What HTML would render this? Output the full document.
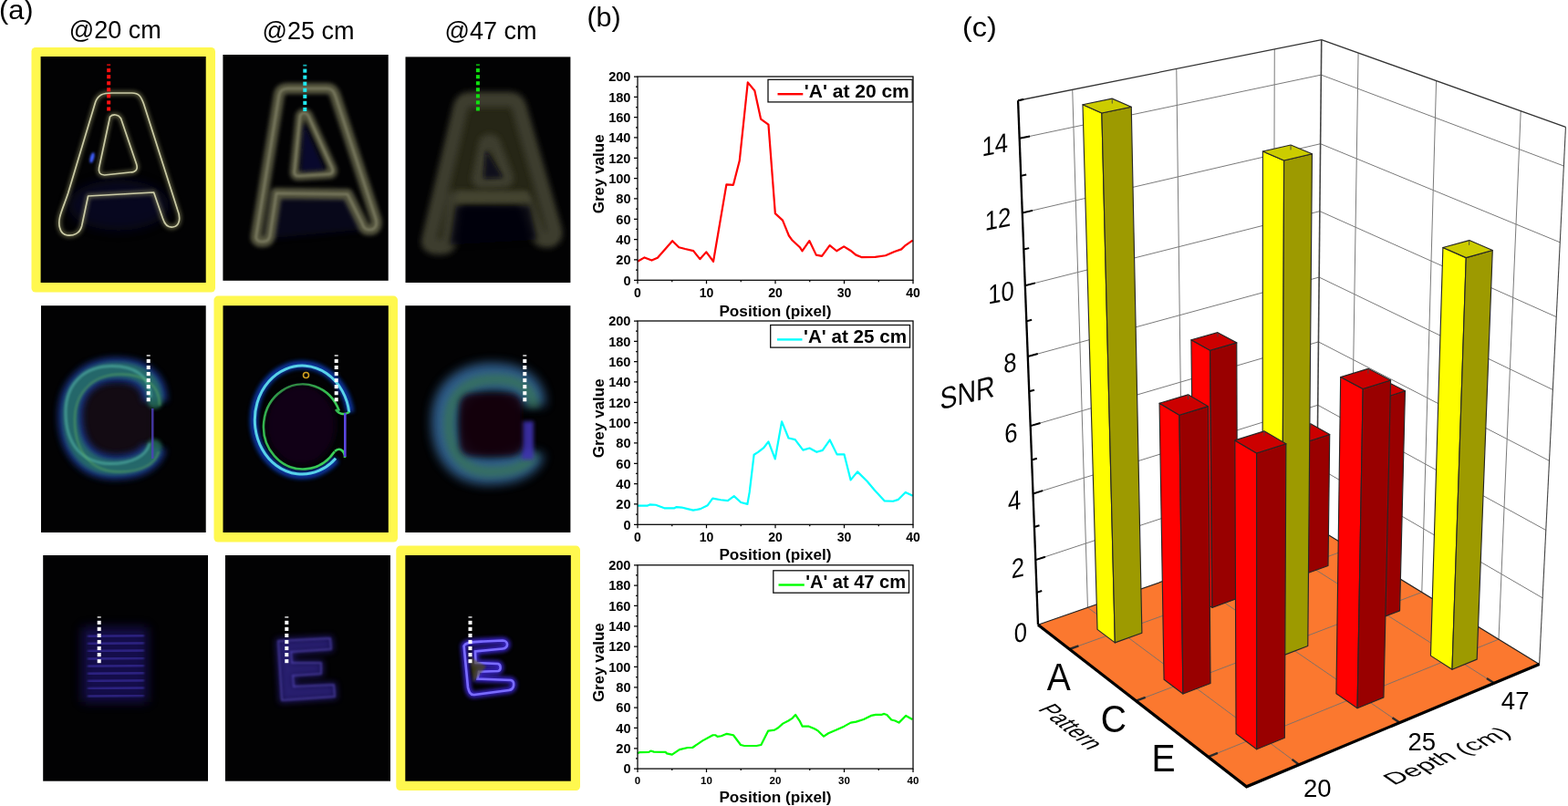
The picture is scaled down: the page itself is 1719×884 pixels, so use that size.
<!DOCTYPE html>
<html lang="en"><head><meta charset="utf-8"><title>Figure</title>
<style>
html,body{margin:0;padding:0;background:#fff;}
body{width:1719px;height:884px;overflow:hidden;}
svg{display:block;}
text{font-family:"Liberation Sans",Arial,Helvetica,sans-serif;fill:#000;}
</style></head><body>
<svg width="1719" height="884" viewBox="0 0 1719 884">
<defs>
<clipPath id="c00"><rect x="44.6" y="62" width="181.1" height="248"/></clipPath>
<clipPath id="c01"><rect x="244.4" y="60" width="181.3" height="247.8"/></clipPath>
<clipPath id="c02"><rect x="444.5" y="62.4" width="180.9" height="247.6"/></clipPath>
<clipPath id="c10"><rect x="45" y="335.2" width="180.7" height="248.8"/></clipPath>
<clipPath id="c11"><rect x="244.5" y="335.2" width="181.3" height="248.8"/></clipPath>
<clipPath id="c12"><rect x="444.3" y="335.2" width="181.1" height="248.8"/></clipPath>
<clipPath id="c20"><rect x="47.2" y="609" width="180.8" height="247.7"/></clipPath>
<clipPath id="c21"><rect x="246.9" y="609" width="181.1" height="247.7"/></clipPath>
<clipPath id="c22"><rect x="444.3" y="609" width="181.5" height="247.7"/></clipPath>
<filter id="g05" x="-50%" y="-50%" width="200%" height="200%"><feGaussianBlur stdDeviation="0.6"/></filter>
<filter id="g1" x="-50%" y="-50%" width="200%" height="200%"><feGaussianBlur stdDeviation="1.1"/></filter>
<filter id="g2" x="-50%" y="-50%" width="200%" height="200%"><feGaussianBlur stdDeviation="2"/></filter>
<filter id="g3" x="-50%" y="-50%" width="200%" height="200%"><feGaussianBlur stdDeviation="3.5"/></filter>
<filter id="g4" x="-50%" y="-50%" width="200%" height="200%"><feGaussianBlur stdDeviation="6"/></filter>
</defs>
<rect width="1719" height="884" fill="#fff"/>
<g font-size="29">
<text transform="translate(-1.1,20.7) scale(1.065,1)">(a)</text>
<text transform="translate(643.4,28.8) scale(1.056,1)">(b)</text>
<text transform="translate(1055,40) scale(1.1,1)" font-size="29.5">(c)</text>
</g>
<g font-size="27" text-anchor="middle">
<text x="126.3" y="42">@20 cm</text>
<text x="338" y="42.6">@25 cm</text>
<text x="538" y="42.6">@47 cm</text>
</g>
<rect x="34.5" y="52" width="201.5" height="268.5" rx="4.5" fill="#fff84f"/>
<rect x="234.5" y="324.6" width="201.5" height="269.9" rx="4.5" fill="#fff84f"/>
<rect x="434.3" y="598.6" width="201.7" height="268.4" rx="4.5" fill="#fff84f"/>
<rect x="44.6" y="62" width="181.1" height="248" fill="#020203"/>
<rect x="244.4" y="60" width="181.3" height="247.8" fill="#020203"/>
<rect x="444.5" y="62.4" width="180.9" height="247.6" fill="#020203"/>
<rect x="45" y="335.2" width="180.7" height="248.8" fill="#020203"/>
<rect x="244.5" y="335.2" width="181.3" height="248.8" fill="#020203"/>
<rect x="444.3" y="335.2" width="181.1" height="248.8" fill="#020203"/>
<rect x="47.2" y="609" width="180.8" height="247.7" fill="#020203"/>
<rect x="246.9" y="609" width="181.1" height="247.7" fill="#020203"/>
<rect x="444.3" y="609" width="181.5" height="247.7" fill="#020203"/>
<g clip-path="url(#c00)">
<ellipse cx="130" cy="225" rx="55" ry="28" fill="#0a0a30" opacity="0.6" filter="url(#g4)"/>
<g transform="translate(44.6,62)" fill="none" stroke="#8c8c60" stroke-width="5" stroke-linejoin="round" opacity="0.6" filter="url(#g2)"><path d="M21,188 C18,178 24,168 30,150 L60,50 C63,42 68,40 78,40 L100,40 C108,40 110,44 113,52 L150,168 C154,178 152,186 145,187 C139,188 136,184 134,178 L124,149 L52,153 L45,186 C43,194 36,197 29,196 C24,195 22,192 21,188 Z"/><path d="M76,66 C79,63 85,63 88,68 L105,118 C107,124 104,127 98,127 L70,130 C65,130 63,127 64,122 Z"/></g>
<g transform="translate(44.6,62)" fill="none" stroke="#d4d4ae" stroke-width="1.7" stroke-linejoin="round" opacity="0.95" filter="url(#g05)"><path d="M21,188 C18,178 24,168 30,150 L60,50 C63,42 68,40 78,40 L100,40 C108,40 110,44 113,52 L150,168 C154,178 152,186 145,187 C139,188 136,184 134,178 L124,149 L52,153 L45,186 C43,194 36,197 29,196 C24,195 22,192 21,188 Z"/><path d="M76,66 C79,63 85,63 88,68 L105,118 C107,124 104,127 98,127 L70,130 C65,130 63,127 64,122 Z"/></g>
<ellipse cx="101" cy="173" rx="2.2" ry="6" transform="rotate(15 101 173)" fill="#4060ff" filter="url(#g1)"/>
</g>
<path d="M300,212 L385,212 L398,252 L292,262 Z" fill="#08082c" opacity="0.6" filter="url(#g3)"/>
<g fill="none" stroke-linejoin="round"><path d="M281,258 L306,104 C307,99 310,97 316,97 L358,97 C364,97 366,100 368,106 L412,240 C414,248 411,252 405,252 C400,252 398,249 397,245 L381,213 L303,212 L296,258 C295,264 292,265 287,265 C282,265 280,262 281,258 Z" stroke="#56563f" stroke-width="12" filter="url(#g2)"/><path d="M329,127 C331,123 336,123 338,127 L364,184 C366,189 364,191 360,191 L327,193 C323,193 322,190 323,186 Z" stroke="#56563f" stroke-width="10" filter="url(#g2)"/><path d="M281,258 L306,104 C307,99 310,97 316,97 L358,97 C364,97 366,100 368,106 L412,240 C414,248 411,252 405,252 C400,252 398,249 397,245 L381,213 L303,212 L296,258 C295,264 292,265 287,265 C282,265 280,262 281,258 Z" stroke="#8c8c70" stroke-width="2.2" opacity="0.75" filter="url(#g1)"/><path d="M329,127 C331,123 336,123 338,127 L364,184 C366,189 364,191 360,191 L327,193 C323,193 322,190 323,186 Z" stroke="#8c8c70" stroke-width="2.2" opacity="0.75" filter="url(#g1)"/></g>
<path d="M333,135 L356,186 L330,188 Z" fill="#0c0c40" opacity="0.7" filter="url(#g2)"/>
</g>
<g clip-path="url(#c02)">
<g transform="translate(540,190) scale(0.94,0.95) translate(-540,-185)">
<path d="M466,262 L503,108 C505,102 509,100 515,100 L560,100 C566,100 569,103 571,109 L612,250 C614,258 610,262 603,262 C596,262 593,258 591,252 L577,215 L497,214 L490,262 C489,268 485,270 478,270 C470,270 465,268 466,262 Z" fill="#262619" filter="url(#g4)"/>
<g fill="none" stroke-linejoin="round"><path d="M466,262 L503,108 C505,102 509,100 515,100 L560,100 C566,100 569,103 571,109 L612,250 C614,258 610,262 603,262 C596,262 593,258 591,252 L577,215 L497,214 L490,262 C489,268 485,270 478,270 C470,270 465,268 466,262 Z" stroke="#3e3e2d" stroke-width="18" filter="url(#g3)"/><path d="M531,150 C533,146 540,146 542,150 L557,188 C559,193 556,195 551,195 L528,196 C524,196 522,193 523,189 Z" stroke="#3e3e2d" stroke-width="14" filter="url(#g3)"/></g>
<path d="M500,206 L580,206 L585,218 L497,220 Z" fill="#4a4a30" opacity="0.6" filter="url(#g2)"/>
<path d="M497,222 L583,222 L592,262 L490,268 Z" fill="#020208" opacity="0.85" filter="url(#g3)"/>
<path d="M532,158 L552,190 L530,191 Z" fill="#0c0a1c" opacity="0.9" filter="url(#g2)"/>
</g>
</g>
<g clip-path="url(#c10)">
<rect x="87" y="420" width="80" height="80" rx="18" fill="#150818" opacity="0.9" filter="url(#g3)"/>
<path d="M170,440 C170,416 152,405.6 128,405.6 C98,405.6 77,424 77,456 C77,492 96,512.5 126,512.5 C150,512.5 166,504 169,490" fill="none" stroke="#1c3a96" stroke-width="27" opacity="0.85" filter="url(#g3)"/>
<path d="M170,440 C170,416 152,405.6 128,405.6 C98,405.6 77,424 77,456 C77,492 96,512.5 126,512.5 C150,512.5 166,504 169,490" fill="none" stroke="#2a7a64" stroke-width="17" stroke-linecap="round" opacity="0.75" filter="url(#g2)"/>
<path d="M170,440 C170,416 152,405.6 128,405.6 C98,405.6 77,424 77,456 C77,492 96,512.5 126,512.5 C150,512.5 166,504 169,490" fill="none" stroke="#5cc0b0" stroke-width="3" opacity="0.55" filter="url(#g1)" transform="translate(-5,-4)"/>
<path d="M170,440 C170,416 152,405.6 128,405.6 C98,405.6 77,424 77,456 C77,492 96,512.5 126,512.5 C150,512.5 166,504 169,490" fill="none" stroke="#60b060" stroke-width="2.5" opacity="0.45" filter="url(#g1)" transform="translate(5,5)"/>
<rect x="166" y="448" width="2.5" height="55" fill="#5040c0" opacity="0.8" filter="url(#g05)"/>
</g>
<g clip-path="url(#c11)">
<path d="M383.78,452.18 A53,60.5 0 1 0 368.78,503.38" fill="none" stroke="#1040c0" stroke-width="9" opacity="0.8" filter="url(#g2)"/>
<path d="M382.79,452.32 A52,59.5 0 1 0 368.07,502.67" fill="none" stroke="#58d2e8" stroke-width="3" filter="url(#g05)"/>
<path d="M371.87,450.58 A43,46.5 0 1 0 366.79,495.33" fill="none" stroke="#3cd25a" stroke-width="2.6" filter="url(#g05)"/>
<path d="M368,449 C372,455 378,455 383,452" fill="none" stroke="#3cd25a" stroke-width="2.6" filter="url(#g05)"/>
<path d="M367,495 C372,490 378,494 378,502" fill="none" stroke="#3cd25a" stroke-width="2.6" filter="url(#g05)"/>
<rect x="377" y="453" width="2.6" height="48" fill="#5a46e0" filter="url(#g05)"/>
<circle cx="335.5" cy="411.5" r="3" fill="none" stroke="#d0a020" stroke-width="1.6" filter="url(#g05)"/>
<ellipse cx="330" cy="466" rx="38" ry="44" fill="#12061a" opacity="0.8" filter="url(#g3)"/>
</g>
<g clip-path="url(#c12)">
<path d="M582,445 C582,424 565,414 540,414 C508,414 489,432 489,462 C489,496 506,515.5 535,515.5 C560,515.5 578,508 581,495" fill="none" stroke="#35679a" stroke-width="32" opacity="0.9" filter="url(#g4)"/>
<path d="M582,445 C582,424 565,414 540,414 C508,414 489,432 489,462 C489,496 506,515.5 535,515.5 C560,515.5 578,508 581,495" fill="none" stroke="#3a7a48" stroke-width="12" opacity="0.6" filter="url(#g3)" transform="translate(3,2)"/>
<rect x="572" y="462" width="13" height="42" fill="#4030b0" opacity="0.9" filter="url(#g2)"/>
<rect x="504" y="432" width="68" height="68" rx="12" fill="#14060f" opacity="0.9" filter="url(#g3)"/>
</g>
<g clip-path="url(#c22)">
<path d="M508.6,708.5 C510,704 520,704 530,703.5 L551,702.5 C557.5,702.5 558,711 551,711.5 L521,714.5 L521.5,727 L546,728 C549.5,729 549.5,735.5 546,736 L525,736.7 L523.5,744.5 L560,746 C564.5,747 564.5,756 558,757 L520,762 C515,762.5 514,758 513,754 Z" fill="none" stroke="#3c28d8" stroke-width="7" opacity="0.9" filter="url(#g2)"/>
<path d="M508.6,708.5 C510,704 520,704 530,703.5 L551,702.5 C557.5,702.5 558,711 551,711.5 L521,714.5 L521.5,727 L546,728 C549.5,729 549.5,735.5 546,736 L525,736.7 L523.5,744.5 L560,746 C564.5,747 564.5,756 558,757 L520,762 C515,762.5 514,758 513,754 Z" fill="none" stroke="#7a6cff" stroke-width="2.6" filter="url(#g05)"/>
<path d="M515,720 L533,731 L519,748 Z" fill="#5a5818" opacity="0.6" filter="url(#g1)"/>
</g>
<g clip-path="url(#c21)">
<path d="M305,703 L362,700 L363,712 L319,715 L320,727 L352,727 L352,739 L321,741 L322,753 L366,751 L367,764 L309,768 Z" fill="#4434b8" stroke="#3626a8" stroke-width="5" opacity="0.6" filter="url(#g3)"/>
<path d="M305,703 L362,700 L363,712 L319,715 L320,727 L352,727 L352,739 L321,741 L322,753 L366,751 L367,764 L309,768 Z" fill="none" stroke="#6a5ad8" stroke-width="2" opacity="0.5" filter="url(#g1)"/>
</g>
<g clip-path="url(#c20)">
<rect x="90" y="688" width="72" height="82" fill="#24197a" opacity="0.6" filter="url(#g4)"/>
<line x1="96" y1="698" x2="158" y2="697" stroke="#5a48e8" stroke-width="2" opacity="0.6" filter="url(#g1)"/>
<line x1="96" y1="706.2" x2="158" y2="705.2" stroke="#5a48e8" stroke-width="2" opacity="0.6" filter="url(#g1)"/>
<line x1="96" y1="714.4" x2="158" y2="713.4" stroke="#5a48e8" stroke-width="2" opacity="0.6" filter="url(#g1)"/>
<line x1="96" y1="722.6" x2="158" y2="721.6" stroke="#5a48e8" stroke-width="2" opacity="0.6" filter="url(#g1)"/>
<line x1="96" y1="730.8" x2="158" y2="729.8" stroke="#5a48e8" stroke-width="2" opacity="0.6" filter="url(#g1)"/>
<line x1="96" y1="739" x2="158" y2="738" stroke="#5a48e8" stroke-width="2" opacity="0.6" filter="url(#g1)"/>
<line x1="96" y1="747.2" x2="158" y2="746.2" stroke="#5a48e8" stroke-width="2" opacity="0.6" filter="url(#g1)"/>
<line x1="96" y1="755.4" x2="158" y2="754.4" stroke="#5a48e8" stroke-width="2" opacity="0.6" filter="url(#g1)"/>
<line x1="96" y1="763.6" x2="158" y2="762.6" stroke="#5a48e8" stroke-width="2" opacity="0.6" filter="url(#g1)"/>
<line x1="97" y1="690" x2="97" y2="765" stroke="#5a48e8" stroke-width="2" opacity="0.6" filter="url(#g05)"/>
</g>
<rect x="117.2" y="70.3" width="4" height="1.8" fill="#ff1010" opacity="0.75"/>
<rect x="117.2" y="75.1" width="4" height="4.1" fill="#ff1010"/>
<rect x="117.2" y="82.15" width="4" height="4.1" fill="#ff1010"/>
<rect x="117.2" y="89.2" width="4" height="4.1" fill="#ff1010"/>
<rect x="117.2" y="96.25" width="4" height="4.1" fill="#ff1010"/>
<rect x="117.2" y="103.3" width="4" height="4.1" fill="#ff1010"/>
<rect x="117.2" y="110.35" width="4" height="4.1" fill="#ff1010"/>
<rect x="117.2" y="117.4" width="4" height="4.1" fill="#ff1010"/>
<rect x="332.3" y="70.8" width="4" height="1.8" fill="#20e8f0" opacity="0.75"/>
<rect x="332.3" y="75.6" width="4" height="4.1" fill="#20e8f0"/>
<rect x="332.3" y="82.65" width="4" height="4.1" fill="#20e8f0"/>
<rect x="332.3" y="89.7" width="4" height="4.1" fill="#20e8f0"/>
<rect x="332.3" y="96.75" width="4" height="4.1" fill="#20e8f0"/>
<rect x="332.3" y="103.8" width="4" height="4.1" fill="#20e8f0"/>
<rect x="332.3" y="110.85" width="4" height="4.1" fill="#20e8f0"/>
<rect x="332.3" y="117.9" width="4" height="4.1" fill="#20e8f0"/>
<rect x="521.9" y="70.3" width="4" height="1.8" fill="#10e010" opacity="0.75"/>
<rect x="521.9" y="75.1" width="4" height="4.1" fill="#10e010"/>
<rect x="521.9" y="82.15" width="4" height="4.1" fill="#10e010"/>
<rect x="521.9" y="89.2" width="4" height="4.1" fill="#10e010"/>
<rect x="521.9" y="96.25" width="4" height="4.1" fill="#10e010"/>
<rect x="521.9" y="103.3" width="4" height="4.1" fill="#10e010"/>
<rect x="521.9" y="110.35" width="4" height="4.1" fill="#10e010"/>
<rect x="521.9" y="117.4" width="4" height="4.1" fill="#10e010"/>
<rect x="160.7" y="389.1" width="4" height="1.8" fill="#ffffff" opacity="0.75"/>
<rect x="160.7" y="393.9" width="4" height="4.1" fill="#ffffff"/>
<rect x="160.7" y="400.95" width="4" height="4.1" fill="#ffffff"/>
<rect x="160.7" y="408" width="4" height="4.1" fill="#ffffff"/>
<rect x="160.7" y="415.05" width="4" height="4.1" fill="#ffffff"/>
<rect x="160.7" y="422.1" width="4" height="4.1" fill="#ffffff"/>
<rect x="160.7" y="429.15" width="4" height="4.1" fill="#ffffff"/>
<rect x="160.7" y="436.2" width="4" height="4.1" fill="#ffffff"/>
<rect x="366.7" y="389.1" width="4" height="1.8" fill="#ffffff" opacity="0.75"/>
<rect x="366.7" y="393.9" width="4" height="4.1" fill="#ffffff"/>
<rect x="366.7" y="400.95" width="4" height="4.1" fill="#ffffff"/>
<rect x="366.7" y="408" width="4" height="4.1" fill="#ffffff"/>
<rect x="366.7" y="415.05" width="4" height="4.1" fill="#ffffff"/>
<rect x="366.7" y="422.1" width="4" height="4.1" fill="#ffffff"/>
<rect x="366.7" y="429.15" width="4" height="4.1" fill="#ffffff"/>
<rect x="366.7" y="436.2" width="4" height="4.1" fill="#ffffff"/>
<rect x="573.3" y="389.1" width="4" height="1.8" fill="#ffffff" opacity="0.75"/>
<rect x="573.3" y="393.9" width="4" height="4.1" fill="#ffffff"/>
<rect x="573.3" y="400.95" width="4" height="4.1" fill="#ffffff"/>
<rect x="573.3" y="408" width="4" height="4.1" fill="#ffffff"/>
<rect x="573.3" y="415.05" width="4" height="4.1" fill="#ffffff"/>
<rect x="573.3" y="422.1" width="4" height="4.1" fill="#ffffff"/>
<rect x="573.3" y="429.15" width="4" height="4.1" fill="#ffffff"/>
<rect x="573.3" y="436.2" width="4" height="4.1" fill="#ffffff"/>
<rect x="106.7" y="676" width="4" height="1.8" fill="#ffffff" opacity="0.75"/>
<rect x="106.7" y="680.8" width="4" height="4.1" fill="#ffffff"/>
<rect x="106.7" y="687.85" width="4" height="4.1" fill="#ffffff"/>
<rect x="106.7" y="694.9" width="4" height="4.1" fill="#ffffff"/>
<rect x="106.7" y="701.95" width="4" height="4.1" fill="#ffffff"/>
<rect x="106.7" y="709" width="4" height="4.1" fill="#ffffff"/>
<rect x="106.7" y="716.05" width="4" height="4.1" fill="#ffffff"/>
<rect x="106.7" y="723.1" width="4" height="4.1" fill="#ffffff"/>
<rect x="312.3" y="676" width="4" height="1.8" fill="#ffffff" opacity="0.75"/>
<rect x="312.3" y="680.8" width="4" height="4.1" fill="#ffffff"/>
<rect x="312.3" y="687.85" width="4" height="4.1" fill="#ffffff"/>
<rect x="312.3" y="694.9" width="4" height="4.1" fill="#ffffff"/>
<rect x="312.3" y="701.95" width="4" height="4.1" fill="#ffffff"/>
<rect x="312.3" y="709" width="4" height="4.1" fill="#ffffff"/>
<rect x="312.3" y="716.05" width="4" height="4.1" fill="#ffffff"/>
<rect x="312.3" y="723.1" width="4" height="4.1" fill="#ffffff"/>
<rect x="513.5" y="676" width="4" height="1.8" fill="#ffffff" opacity="0.75"/>
<rect x="513.5" y="680.8" width="4" height="4.1" fill="#ffffff"/>
<rect x="513.5" y="687.85" width="4" height="4.1" fill="#ffffff"/>
<rect x="513.5" y="694.9" width="4" height="4.1" fill="#ffffff"/>
<rect x="513.5" y="701.95" width="4" height="4.1" fill="#ffffff"/>
<rect x="513.5" y="709" width="4" height="4.1" fill="#ffffff"/>
<rect x="513.5" y="716.05" width="4" height="4.1" fill="#ffffff"/>
<rect x="513.5" y="723.1" width="4" height="4.1" fill="#ffffff"/>
<polyline points="699,286.76 706.55,282.4 714.48,285.53 720.89,282.85 728.82,273.81 737.13,264.2 744.3,271.24 751.1,273.02 760.15,275.14 767.33,284.19 774.27,276.37 782.05,286.76 796.39,202.35 803.94,202.8 810.74,176.33 819.8,90.36 827.35,99.52 834.14,130.67 842.45,136.7 848.11,211.28 849.85,234.17 858,241.65 864.87,258.51 868.57,263.53 877.18,271.57 879.44,275.26 887.3,264.09 894.77,279.61 901.04,280.95 909.64,269.12 917.19,275.26 925.2,270.34 932.29,274.7 938.34,279.61 944.38,282.07 959.47,281.84 970.8,280.28 980.62,275.93 988.16,273.36 991.94,269.67 1000.62,263.53" fill="none" stroke="#ff0000" stroke-width="2.2" stroke-linejoin="round"/>
<rect x="699" y="84" width="302" height="223.3" fill="none" stroke="#000" stroke-width="1.25"/>
<path d="M695,307.3H699M697,296.13H699M695,284.97H699M697,273.81H699M695,262.64H699M697,251.48H699M695,240.31H699M697,229.15H699M695,217.98H699M697,206.81H699M695,195.65H699M697,184.49H699M695,173.32H699M697,162.16H699M695,150.99H699M697,139.83H699M695,128.66H699M697,117.5H699M695,106.33H699M697,95.16H699M695,84H699M699,307.3V311.3M736.75,307.3V309.3M774.5,307.3V311.3M812.25,307.3V309.3M850,307.3V311.3M887.75,307.3V309.3M925.5,307.3V311.3M963.25,307.3V309.3M1001,307.3V311.3" stroke="#000" stroke-width="1.25" fill="none"/>
<g font-size="14.6" font-weight="bold" text-anchor="end">
<text x="691.5" y="312.5">0</text>
<text x="691.5" y="290.17">20</text>
<text x="691.5" y="267.84">40</text>
<text x="691.5" y="245.51">60</text>
<text x="691.5" y="223.18">80</text>
<text x="691.5" y="200.85">100</text>
<text x="691.5" y="178.52">120</text>
<text x="691.5" y="156.19">140</text>
<text x="691.5" y="133.86">160</text>
<text x="691.5" y="111.53">180</text>
<text x="691.5" y="89.2">200</text>
</g>
<g font-size="14" font-weight="bold" text-anchor="middle">
<text x="699" y="325.62">0</text>
<text x="774.5" y="325.62">10</text>
<text x="850" y="325.62">20</text>
<text x="925.5" y="325.62">30</text>
<text x="1001" y="325.62">40</text>
</g>
<text x="850" y="346.5" font-size="17.2" font-weight="bold" text-anchor="middle">Position (pixel)</text>
<text transform="translate(661.5,190.85) rotate(-90)" font-size="17" font-weight="bold" text-anchor="middle">Grey value</text>
<rect x="842" y="87.3" width="158.2" height="24.6" fill="#fff" stroke="#111" stroke-width="1.3"/>
<line x1="852.5" y1="103.2" x2="880.3" y2="103.2" stroke="#ff0000" stroke-width="2.4"/>
<text x="881.8" y="106.8" font-size="20.3" font-weight="bold" textLength="114.9" lengthAdjust="spacingAndGlyphs">'A' at 20 cm</text>
<polyline points="699,554.53 710.02,554.53 712.36,553.42 718.78,553.75 728.29,557.32 739.39,557.32 741.73,556.1 747.32,556.54 753.66,558.11 759.93,559.67 767.93,558.11 775.78,554.2 781.29,546.61 790.05,548.28 797.9,549.06 804.7,544.15 812.25,550.96 819.42,552.86 821.69,539.91 826.6,498.71 831.12,495.92 837.54,490.78 842.45,484.42 849.77,503.4 857.1,462.31 864.5,480.51 871.67,482.07 880.35,493.57 887.52,491.56 895.3,495.81 901.79,493.91 909.72,482.52 917.57,498.37 925.5,498.37 932.6,526.4 940.07,517.35 950.79,527.96 958.72,537.45 969.82,549.4 979.11,549.73 984.92,547.83 992.69,539.91 1000.7,543.81" fill="none" stroke="#00ffff" stroke-width="2.2" stroke-linejoin="round"/>
<rect x="699" y="352" width="302" height="223.3" fill="none" stroke="#000" stroke-width="1.25"/>
<path d="M695,575.3H699M697,564.13H699M695,552.97H699M697,541.8H699M695,530.64H699M697,519.47H699M695,508.31H699M697,497.14H699M695,485.98H699M697,474.81H699M695,463.65H699M697,452.48H699M695,441.32H699M697,430.15H699M695,418.99H699M697,407.82H699M695,396.66H699M697,385.5H699M695,374.33H699M697,363.16H699M695,352H699M699,575.3V579.3M736.75,575.3V577.3M774.5,575.3V579.3M812.25,575.3V577.3M850,575.3V579.3M887.75,575.3V577.3M925.5,575.3V579.3M963.25,575.3V577.3M1001,575.3V579.3" stroke="#000" stroke-width="1.25" fill="none"/>
<g font-size="14.6" font-weight="bold" text-anchor="end">
<text x="691.5" y="580.5">0</text>
<text x="691.5" y="558.17">20</text>
<text x="691.5" y="535.84">40</text>
<text x="691.5" y="513.51">60</text>
<text x="691.5" y="491.18">80</text>
<text x="691.5" y="468.85">100</text>
<text x="691.5" y="446.52">120</text>
<text x="691.5" y="424.19">140</text>
<text x="691.5" y="401.86">160</text>
<text x="691.5" y="379.53">180</text>
<text x="691.5" y="357.2">200</text>
</g>
<g font-size="14" font-weight="bold" text-anchor="middle">
<text x="699" y="593.62">0</text>
<text x="774.5" y="593.62">10</text>
<text x="850" y="593.62">20</text>
<text x="925.5" y="593.62">30</text>
<text x="1001" y="593.62">40</text>
</g>
<text x="850" y="614" font-size="17.2" font-weight="bold" text-anchor="middle">Position (pixel)</text>
<text transform="translate(661.5,458.85) rotate(-90)" font-size="17" font-weight="bold" text-anchor="middle">Grey value</text>
<rect x="844.7" y="356.5" width="152.8" height="24.6" fill="#fff" stroke="#111" stroke-width="1.3"/>
<line x1="852" y1="372.4" x2="879.5" y2="372.4" stroke="#00ffff" stroke-width="2.4"/>
<text x="881" y="376" font-size="20.3" font-weight="bold" textLength="113" lengthAdjust="spacingAndGlyphs">'A' at 25 cm</text>
<polyline points="699,826.24 701.11,825.12 711.31,824.9 713.35,823.56 716.89,824.57 729.58,824.9 731.09,826.35 736.75,827.69 744.9,822.11 753.96,819.99 759.1,819.99 770.27,812.4 781.52,806.26 784.54,806.26 786.58,807.82 790.73,807.26 796.77,804.8 803.94,806.26 812.02,816.97 816.02,817.98 829.39,817.98 834.37,816.97 842.07,801.68 849.09,800.67 853.1,798.22 858.23,793.64 864.35,790.51 868.42,787.94 872.05,783.93 876.58,790.51 879.67,796.65 886.77,796.65 892.88,799.22 896.96,801.68 903.08,807.71 908.13,804.25 916.29,800.78 925.42,796.65 932.67,792.63 938.56,791.63 946.79,788.95 954.94,784.93 960.08,783.93 966.12,783.93 969.29,782.92 972.31,783.93 977.29,789.51 981.37,790.51 985.52,792.63 993.07,784.93 1000.25,788.95" fill="none" stroke="#00ff00" stroke-width="2.2" stroke-linejoin="round"/>
<rect x="699" y="619.8" width="302" height="223.3" fill="none" stroke="#000" stroke-width="1.25"/>
<path d="M695,843.1H699M697,831.94H699M695,820.77H699M697,809.61H699M695,798.44H699M697,787.27H699M695,776.11H699M697,764.95H699M695,753.78H699M697,742.62H699M695,731.45H699M697,720.28H699M695,709.12H699M697,697.95H699M695,686.79H699M697,675.62H699M695,664.46H699M697,653.29H699M695,642.13H699M697,630.96H699M695,619.8H699M699,843.1V847.1M736.75,843.1V845.1M774.5,843.1V847.1M812.25,843.1V845.1M850,843.1V847.1M887.75,843.1V845.1M925.5,843.1V847.1M963.25,843.1V845.1M1001,843.1V847.1" stroke="#000" stroke-width="1.25" fill="none"/>
<g font-size="14.6" font-weight="bold" text-anchor="end">
<text x="691.5" y="848.3">0</text>
<text x="691.5" y="825.97">20</text>
<text x="691.5" y="803.64">40</text>
<text x="691.5" y="781.31">60</text>
<text x="691.5" y="758.98">80</text>
<text x="691.5" y="736.65">100</text>
<text x="691.5" y="714.32">120</text>
<text x="691.5" y="691.99">140</text>
<text x="691.5" y="669.66">160</text>
<text x="691.5" y="647.33">180</text>
<text x="691.5" y="625">200</text>
</g>
<g font-size="11.5" font-weight="bold" text-anchor="middle">
<text x="699" y="859.63">0</text>
<text x="774.5" y="859.63">10</text>
<text x="850" y="859.63">20</text>
<text x="925.5" y="859.63">30</text>
<text x="1001" y="859.63">40</text>
</g>
<text x="850" y="879.9" font-size="17.2" font-weight="bold" text-anchor="middle">Position (pixel)</text>
<text transform="translate(661.5,726.65) rotate(-90)" font-size="17" font-weight="bold" text-anchor="middle">Grey value</text>
<rect x="847.8" y="625.8" width="148.7" height="24.4" fill="#fff" stroke="#111" stroke-width="1.3"/>
<line x1="853.5" y1="641.5" x2="881.8" y2="641.5" stroke="#00ff00" stroke-width="2.4"/>
<text x="883.3" y="645.1" font-size="20.3" font-weight="bold" textLength="109.7" lengthAdjust="spacingAndGlyphs">'A' at 47 cm</text>
<polygon points="1138,685.24 1443.42,578.79 1448.74,43.68 1116.07,110.26" fill="#fff"/>
<polygon points="1443.42,578.79 1687.57,728.49 1716.46,139.3 1448.74,43.68" fill="#fff"/>
<path d="M1135.29,614.17L1444.08,512.24M1444.08,512.24L1691.14,655.83M1132.52,541.49L1444.76,444.29M1444.76,444.29L1694.78,581.48M1129.68,467.14L1445.45,374.92M1445.45,374.92L1698.51,505.36M1126.78,391.06L1446.15,304.06M1446.15,304.06L1702.34,427.43M1123.81,313.18L1446.87,231.67M1446.87,231.67L1706.25,347.6M1120.77,233.46L1447.61,157.71M1447.61,157.71L1710.26,265.81M1117.66,151.82L1448.36,82.11M1448.36,82.11L1714.37,182M1192.45,666.26L1175.73,98.32M1480.51,601.53L1489.08,58.09M1296.92,629.85L1289.77,75.5M1558.78,649.52L1574.59,88.63M1395.88,595.36L1397.27,53.98M1643.01,701.17L1667.21,121.71" stroke="#7a7a7a" stroke-width="1" fill="none"/>
<path d="M1116.07,110.26L1448.74,43.68M1448.74,43.68L1716.46,139.3" stroke="#333" stroke-width="1.3" fill="none"/>
<path d="M1443.42,578.79L1448.74,43.68" stroke="#444" stroke-width="1.6" fill="none"/>
<path d="M1687.57,728.49L1716.46,139.3" stroke="#444" stroke-width="1.1" fill="none"/>
<polygon points="1138,685.24 1366.58,862.85 1687.57,728.49 1443.42,578.79" fill="#fb782f"/>
<path d="M1192.45,666.26L1424.28,838.7M1172.43,712L1480.51,601.53M1296.92,629.85L1534.41,792.6M1245.44,768.73L1558.78,649.52M1395.88,595.36L1638.03,749.23M1324.52,830.17L1643.01,701.17" stroke="#6e6e6e" stroke-width="1" fill="none" opacity="0.85"/>
<path d="M1138,685.24L1443.42,578.79M1443.42,578.79L1687.57,728.49" stroke="#222" stroke-width="1.2" fill="none"/>
<path d="M1172.43,712L1182.45,708.41M1424.28,838.7L1416.48,832.9M1245.44,768.73L1255.66,764.84M1534.41,792.6L1526.44,787.15M1324.52,830.17L1334.94,825.95M1638.03,749.23L1629.93,744.09" stroke="#2a2a2a" stroke-width="2.4" fill="none"/>
<path d="M1138,685.24L1366.58,862.85L1687.57,728.49" stroke="#000" stroke-width="3.2" fill="none" stroke-linejoin="miter"/>
<path d="M1138,685.24L1116.07,110.26" stroke="#000" stroke-width="2.3" fill="none"/>
<path d="M1136.65,649.91L1142.2,648.02M1135.29,614.17L1145.88,610.68M1133.91,578.04L1139.52,576.24M1132.52,541.49L1143.23,538.15M1131.11,504.53L1136.79,502.81M1129.68,467.14L1140.53,463.97M1128.24,429.32L1133.99,427.69M1126.78,391.06L1137.76,388.06M1125.3,352.35L1131.13,350.82M1123.81,313.18L1134.93,310.38M1122.3,273.56L1128.2,272.13M1120.77,233.46L1132.03,230.85M1119.22,192.88L1125.2,191.56M1117.66,151.82L1129.06,149.42M1116.07,110.26L1122.12,109.05" stroke="#000" stroke-width="2" fill="none"/>
<g stroke="#262626" stroke-width="1.15" stroke-linejoin="round">
<polygon points="1409.29,616.98 1429.57,629.99 1430.7,485.19 1409.96,473.32" fill="#ff0000"/>
<polygon points="1429.57,629.99 1456,620.44 1457.73,476.5 1430.7,485.19" fill="#990000"/>
<polygon points="1409.96,473.32 1436.87,464.81 1457.73,476.5 1430.7,485.19" fill="#cc0000"/>
</g>
<path d="M1436.87,464.81L1436.83,469.36" stroke="#444" stroke-width="0.9"/>
<g stroke="#262626" stroke-width="1.15" stroke-linejoin="round">
<polygon points="1309.01,652.66 1328.84,666.39 1326.6,384.2 1305.92,372.81" fill="#ff0000"/>
<polygon points="1328.84,666.39 1356.77,656.3 1355.77,375.88 1326.6,384.2" fill="#990000"/>
<polygon points="1305.92,372.81 1334.95,364.66 1355.77,375.88 1326.6,384.2" fill="#cc0000"/>
</g>
<path d="M1334.95,364.66L1334.99,369.51" stroke="#444" stroke-width="0.9"/>
<g stroke="#262626" stroke-width="1.15" stroke-linejoin="round">
<polygon points="1485.91,666.15 1507.73,680.15 1512.64,437.57 1489.95,425.58" fill="#ff0000"/>
<polygon points="1507.73,680.15 1534.55,669.86 1540.45,428.8 1512.64,437.57" fill="#990000"/>
<polygon points="1489.95,425.58 1517.64,416.99 1540.45,428.8 1512.64,437.57" fill="#cc0000"/>
</g>
<path d="M1517.64,416.99L1517.54,421.82" stroke="#444" stroke-width="0.9"/>
<g stroke="#262626" stroke-width="1.15" stroke-linejoin="round">
<polygon points="1203.04,690.36 1222.34,704.88 1207.88,124.06 1186.99,114.73" fill="#ffff00"/>
<polygon points="1222.34,704.88 1251.88,694.21 1240.25,117.31 1207.88,124.06" fill="#9d9a00"/>
<polygon points="1186.99,114.73 1219.17,108.14 1240.25,117.31 1207.88,124.06" fill="#cccc00"/>
</g>
<path d="M1219.17,108.14L1219.3,113.55" stroke="#444" stroke-width="0.9"/>
<g stroke="#262626" stroke-width="1.15" stroke-linejoin="round">
<polygon points="1384,704.6 1405.38,719.41 1407.63,176.02 1384.39,166.06" fill="#ffff00"/>
<polygon points="1405.38,719.41 1433.78,708.52 1438.44,168.8 1407.63,176.02" fill="#9d9a00"/>
<polygon points="1384.39,166.06 1415.06,159.01 1438.44,168.8 1407.63,176.02" fill="#cccc00"/>
</g>
<path d="M1415.06,159.01L1415.03,164.4" stroke="#444" stroke-width="0.9"/>
<g stroke="#262626" stroke-width="1.15" stroke-linejoin="round">
<polygon points="1568.43,719.11 1591.98,734.22 1607.27,282.6 1581.88,271.49" fill="#ffff00"/>
<polygon points="1591.98,734.22 1619.18,723.11 1636.28,274.51 1607.27,282.6" fill="#9d9a00"/>
<polygon points="1581.88,271.49 1610.78,263.58 1636.28,274.51 1607.27,282.6" fill="#cccc00"/>
</g>
<path d="M1610.78,263.58L1610.6,268.86" stroke="#444" stroke-width="0.9"/>
<g stroke="#262626" stroke-width="1.15" stroke-linejoin="round">
<polygon points="1276.07,745.32 1296.92,761.02 1292.89,455.2 1271.08,442.18" fill="#ff0000"/>
<polygon points="1296.92,761.02 1327.04,749.46 1324.5,445.67 1292.89,455.2" fill="#990000"/>
<polygon points="1271.08,442.18 1302.51,432.86 1324.5,445.67 1292.89,455.2" fill="#cc0000"/>
</g>
<path d="M1302.51,432.86L1302.57,438.01" stroke="#444" stroke-width="0.9"/>
<g stroke="#262626" stroke-width="1.15" stroke-linejoin="round">
<polygon points="1464.94,760.67 1488.06,776.69 1494.16,426.51 1469.69,413.59" fill="#ff0000"/>
<polygon points="1488.06,776.69 1516.92,764.9 1524.57,417.06 1494.16,426.51" fill="#990000"/>
<polygon points="1469.69,413.59 1499.96,404.36 1524.57,417.06 1494.16,426.51" fill="#cc0000"/>
</g>
<path d="M1499.96,404.36L1499.87,409.62" stroke="#444" stroke-width="0.9"/>
<g stroke="#262626" stroke-width="1.15" stroke-linejoin="round">
<polygon points="1355.08,804.78 1377.68,821.79 1377.6,497.01 1353.82,482.92" fill="#ff0000"/>
<polygon points="1377.68,821.79 1408.36,809.26 1409.87,486.69 1377.6,497.01" fill="#990000"/>
<polygon points="1353.82,482.92 1385.92,472.84 1409.87,486.69 1377.6,497.01" fill="#cc0000"/>
</g>
<path d="M1385.92,472.84L1385.92,478.18" stroke="#444" stroke-width="0.9"/>
<g font-size="29.5" text-anchor="middle">
<text transform="translate(1090.8,158.3) skewY(-10.5) scale(0.87,1)" y="10.5">14</text>
<text transform="translate(1094,239.7) skewY(-10.8) scale(0.87,1)" y="10.5">12</text>
<text transform="translate(1097.4,320.5) skewY(-11.1) scale(0.87,1)" y="10.5">10</text>
<text transform="translate(1107.5,397.5) skewY(-11.4) scale(0.87,1)" y="10.5">8</text>
<text transform="translate(1108.5,474.5) skewY(-11.7) scale(0.87,1)" y="10.5">6</text>
<text transform="translate(1112.2,548.8) skewY(-12) scale(0.87,1)" y="10.5">4</text>
<text transform="translate(1115.9,622.4) skewY(-12.3) scale(0.87,1)" y="10.5">2</text>
<text transform="translate(1119,693.3) skewY(-12.6) scale(0.87,1)" y="10.5">0</text>
</g>
<text transform="translate(1060.5,430) skewY(-14) scale(0.85,1)" font-size="33.5" text-anchor="middle" y="12">SNR</text>
<g font-size="42.5" text-anchor="middle">
<text transform="translate(1160.7,757.2) scale(0.92,1)">A</text>
<text transform="translate(1220.95,803.3) scale(0.92,1)">C</text>
<text transform="translate(1275.65,845.7) scale(0.92,1)">E</text>
</g>
<g font-size="27.5" text-anchor="middle">
<text x="1444.2" y="873.8">20</text>
<text x="1558.85" y="823.2">25</text>
<text x="1661.15" y="778.1">47</text>
</g>
<text transform="matrix(0.88,0.7,-1.33,0.53,1136.9,777.9)" font-size="20">Pattern</text>
<text transform="matrix(1.32,-0.56,1.03,0.71,1528,861.5)" font-size="20">Depth (cm)</text>
</svg>
</body></html>
